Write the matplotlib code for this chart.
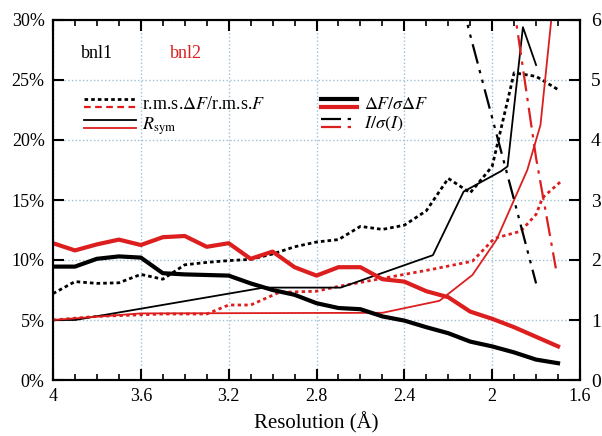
import matplotlib
matplotlib.use("Agg")
import matplotlib.pyplot as plt
from matplotlib.lines import Line2D
from matplotlib.legend_handler import HandlerBase
from matplotlib.ticker import FuncFormatter, MultipleLocator

plt.rcParams['font.family'] = ['Liberation Serif', 'DejaVu Serif']
plt.rcParams['mathtext.fontset'] = 'stix'

RED = '#dc1e1e'
GRID = '#9ec0d6'

# resolution shells (A)
shells = [4.0, 3.9, 3.8, 3.7, 3.6, 3.5, 3.4, 3.3, 3.2, 3.1, 3.0, 2.9,
          2.8, 2.7, 2.6, 2.5, 2.4, 2.3, 2.2, 2.1, 2.0, 1.9, 1.8, 1.7]

# left axis, percent
rms_bnl1 = [7.2, 8.2, 8.05, 8.1, 8.8, 8.4, 9.6, 9.8, 9.95, 10.05, 10.5, 11.1,
            11.5, 11.7, 12.8, 12.55, 12.9, 14.1, 16.8, 15.6, 17.8, 25.6, 25.3, 24.2]
rms_bnl2_x = [4.0, 3.8, 3.5, 3.3, 3.2, 3.1, 2.97, 2.8, 2.7, 2.55, 2.28,
              2.09, 1.99, 1.87, 1.8, 1.77, 1.69]
rms_bnl2 = [5.0, 5.3, 5.5, 5.5, 6.25, 6.25, 7.3, 7.4, 7.8, 8.3, 9.2,
            9.9, 11.8, 12.4, 13.8, 15.2, 16.5]
rsym_bnl1_x = [4.0, 3.9, 3.04, 2.69, 2.27, 2.13, 1.96, 1.93, 1.86, 1.80]
rsym_bnl1 = [5.0, 5.0, 7.7, 7.7, 10.4, 15.7, 17.4, 17.8, 29.4, 26.25]
rsym_bnl2_x = [4.0, 3.6, 2.5, 2.24, 2.09, 1.98, 1.84, 1.78, 1.70]
rsym_bnl2 = [5.0, 5.55, 5.6, 6.6, 8.75, 11.7, 17.5, 21.25, 35.5]

# right axis, ratios
dfsig_bnl1 = [1.89, 1.89, 2.02, 2.06, 2.04, 1.78, 1.76, 1.75, 1.74, 1.61, 1.50, 1.42,
              1.28, 1.20, 1.18, 1.06, 0.99, 0.88, 0.78, 0.64, 0.56, 0.46, 0.34, 0.28]
dfsig_bnl2 = [2.28, 2.16, 2.26, 2.34, 2.25, 2.38, 2.40, 2.22, 2.28, 2.02, 2.14, 1.88,
              1.74, 1.88, 1.88, 1.68, 1.64, 1.48, 1.38, 1.14, 1.02, 0.88, 0.72, 0.56]
isig_bnl1_x = [2.2, 2.1, 2.0, 1.9, 1.8]
isig_bnl1 = [7.2, 5.75, 4.37, 3.0, 1.61]
isig_bnl2_x = [2.0, 1.9, 1.8, 1.71]
isig_bnl2 = [8.0, 6.2, 3.7, 1.86]

xticks = [4, 3.6, 3.2, 2.8, 2.4, 2, 1.6]


class PairHandler(HandlerBase):
    # two stacked line samples per legend row
    def create_artists(self, legend, orig_handle, xdescent, ydescent,
                       width, height, fontsize, trans):
        out = []
        for h, yy in zip(orig_handle, (0.75 * height, 0.1 * height)):
            ln = Line2D([-xdescent, -xdescent + width], [yy - ydescent] * 2)
            ln.update_from(h)
            ln.set_transform(trans)
            out.append(ln)
        return out


fig = plt.figure(figsize=(6.02, 4.36), dpi=100)
ax = fig.add_axes([53 / 602, 56 / 436, 527 / 602, 360 / 436])
ax2 = ax.twinx()

dot_k = dict(color='black', lw=2.0, ls=(0, (1.3, 1.1)))
dot_r = dict(color=RED, lw=2.0, ls=(0, (1.2, 1.2)))
thin_k = dict(color='black', lw=1.3)
thin_r = dict(color=RED, lw=1.3)
thick_k = dict(color='black', lw=3.0)
thick_r = dict(color=RED, lw=3.0)
dd_k = dict(color='black', lw=1.6, ls=(0, (9, 3, 1.5, 3, 1.5, 3)))
dd_r = dict(color=RED, lw=1.6, ls=(0, (9, 3, 1.5, 3)))

ax.plot(shells, rms_bnl1, **dot_k)
ax.plot(rms_bnl2_x, rms_bnl2, **dot_r)
ax.plot(rsym_bnl1_x, rsym_bnl1, **thin_k)
ax.plot(rsym_bnl2_x, rsym_bnl2, **thin_r)
ax2.plot(shells, dfsig_bnl1, **thick_k)
ax2.plot(shells, dfsig_bnl2, **thick_r)
ax2.plot(isig_bnl1_x, isig_bnl1, **dd_k)
ax2.plot(isig_bnl2_x, isig_bnl2, **dd_r)

ax.set_xlim(4, 1.6)
ax.set_ylim(0, 30)
ax2.set_ylim(0, 6)

ax.set_xticks(xticks)
ax.xaxis.set_minor_locator(MultipleLocator(0.1))
ax.xaxis.set_major_formatter(FuncFormatter(lambda v, p: '%g' % v))
ax.set_yticks(range(0, 31, 5))
ax.yaxis.set_major_formatter(FuncFormatter(lambda v, p: '%d%%' % v))
ax2.set_yticks(range(0, 7))

for a in (ax, ax2):
    for s in a.spines.values():
        s.set_linewidth(1.5)
ax.tick_params(axis='both', which='major', direction='in', top=True,
               length=8, width=1.5, labelsize=13, pad=6)
ax.tick_params(axis='x', which='minor', direction='in', top=True,
               length=4, width=1.2)
ax2.tick_params(axis='y', direction='in', length=8, width=1.5,
                labelsize=14, pad=8)

ax.grid(True, which='major', color=GRID, ls=':', lw=1.0)
ax.set_axisbelow(True)
ax.set_xlabel('Resolution (Å)', fontsize=15, labelpad=5)

ax.text(0.083, 0.908, 'bnl1', transform=ax.transAxes, fontsize=13,
        ha='center', va='center', color='black')
ax.text(0.253, 0.908, 'bnl2', transform=ax.transAxes, fontsize=13,
        ha='center', va='center', color=RED)

h_rms = (Line2D([], [], **dot_k), Line2D([], [], color=RED, lw=1.6, ls=(0, (3, 2))))
h_rsym = (Line2D([], [], **thin_k), Line2D([], [], **thin_r))
h_df = (Line2D([], [], **thick_k), Line2D([], [], **thick_r))
h_is = (Line2D([], [], **dd_k), Line2D([], [], **dd_r))

leg1 = ax.legend([h_rms, h_rsym],
                 [r'r.m.s.$\Delta F$/r.m.s.$F$', r'$R_{\rm sym}$'],
                 handler_map={tuple: PairHandler()}, loc='upper left',
                 bbox_to_anchor=(0.045, 0.81), frameon=False, fontsize=13,
                 handlelength=2.9, handletextpad=0.3, labelspacing=0.15,
                 borderaxespad=0)
ax.add_artist(leg1)
ax.legend([h_df, h_is], [r'$\Delta F/\sigma\Delta F$', r'$I/\sigma(I)$'],
          handler_map={tuple: PairHandler()}, loc='upper left',
          bbox_to_anchor=(0.495, 0.81), frameon=False, fontsize=13,
          handlelength=2.0, handletextpad=0.4, labelspacing=0.15,
          borderaxespad=0)

fig.savefig('out.png', dpi=100)
